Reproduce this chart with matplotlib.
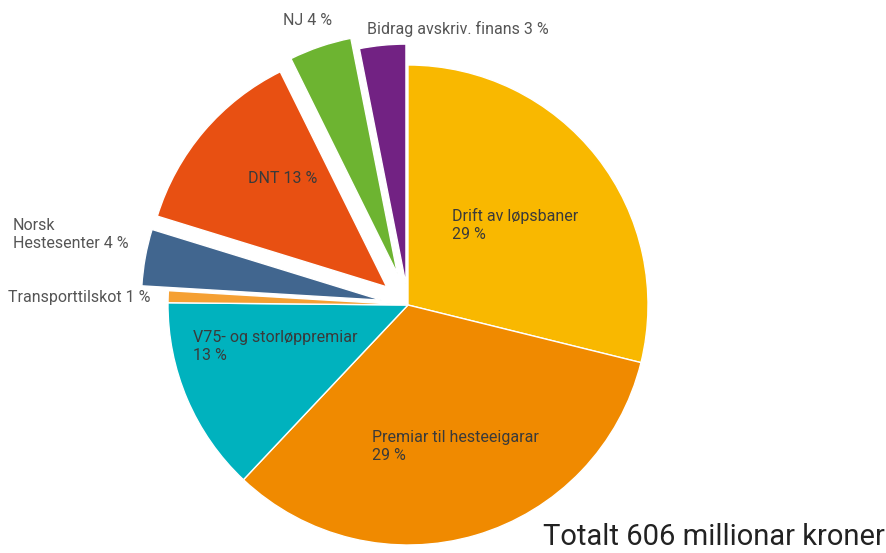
import matplotlib.pyplot as plt

# andelar lesne av figuren (grader / 360)
labels = ["Drift av løpsbaner", "Premiar til hesteeigarar", "V75- og storløppremiar",
          "Transporttilskot", "Norsk Hestesenter", "DNT", "NJ", "Bidrag avskriv. finans"]
values = [28.8, 33.1, 13.1, 0.8, 3.8, 12.9, 4.2, 3.1]
pct_text = ["29 %", "29 %", "13 %", "1 %", "4 %", "13 %", "4 %", "3 %"]
colors = ["#F9B800", "#F08A00", "#00B2BE", "#F5A033", "#41668F", "#E85012", "#6DB431", "#722283"]
explode = [0, 0, 0, 0, 27, 28, 33, 21]  # i pikslar (data-einingar)

plt.rcParams['font.family'] = ['Roboto', 'DejaVu Sans']

W, H = 887, 553
fig = plt.figure(figsize=(W / 100, H / 100), dpi=100)
ax = fig.add_axes([0, 0, 1, 1])

ax.pie(values, colors=colors, explode=explode, startangle=90, counterclock=False,
       center=(408, H - 305), radius=240,
       wedgeprops=dict(edgecolor='white', linewidth=1))
ax.set_xlim(0, W)
ax.set_ylim(0, H)
ax.set_aspect('equal')
ax.axis('off')

inner = '#3a3a3a'
outer = '#555555'
fs = 11.5

def put(x, y, s, c=inner, **kw):
    ax.text(x, H - y, s, color=c, fontsize=fs, va='top', ha='left', linespacing=1.25, **kw)

put(452, 208, labels[0] + "\n" + pct_text[0])
put(372, 430, labels[1] + "\n" + pct_text[1])
put(193, 330, labels[2] + "\n" + pct_text[2])
put(248, 171, labels[5] + " " + pct_text[5])
put(13, 218, "Norsk\nHestesenter " + pct_text[4], outer)
put(8, 290, labels[3] + " " + pct_text[3], outer)
put(283, 13, labels[6] + " " + pct_text[6], outer)
put(367, 21, labels[7] + " " + pct_text[7], outer)

ax.text(885, H - 537, "Totalt 606 millionar kroner", fontsize=21, color='#222222',
        ha='right', va='center')

fig.savefig('out.png', dpi=100)
